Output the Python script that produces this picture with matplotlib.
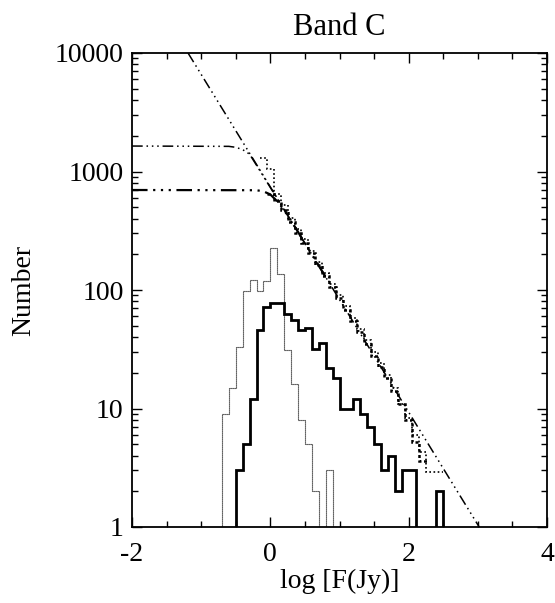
import numpy as np
import matplotlib
matplotlib.use("Agg")
import matplotlib.pyplot as plt
from matplotlib.ticker import MultipleLocator, FixedLocator, FixedFormatter, LogLocator, NullFormatter

plt.rcParams['font.family'] = ['Liberation Serif', 'DejaVu Serif']
plt.rcParams['axes.unicode_minus'] = False

# differential counts, bin width 0.1 in log F
thin_edges = np.round(np.arange(-0.7, 0.91, 0.1), 2)
thin_counts = [9, 15, 33, 98, 122, 99, 118, 225, 137, 31, 16, 8, 5, 2, 0, 3]

thick_edges = np.round(np.arange(-0.5, 2.51, 0.1), 2)
thick_counts = [3, 5, 12, 46, 72, 77, 77, 63, 56, 46, 48, 32, 36, 22, 18,
                10, 10, 12, 9, 7, 5, 3, 4, 2, 3, 3, 0, 0, 0, 2]

# cumulative counts
cum_a_edges = list(np.round(np.arange(-0.15, 2.26, 0.1), 2)) + [2.5]
cum_a_counts = [1290, 1050, 640, 520, 405, 330, 272, 215, 172, 140, 112, 90, 73,
                58, 47, 38, 30, 24, 19, 15, 11, 8.3, 6.0, 4.3, 2.9]

cum_b_edges = list(np.round(np.arange(-0.05, 2.16, 0.1), 2)) + [2.3]
cum_b_counts = [650, 560, 470, 372, 305, 250, 205, 163, 131, 105, 85, 68, 55,
                44, 35, 28, 22.5, 18, 14, 11, 8, 5.2, 3.6]

# power law and model curves
pl_x = [-1.19, 3.02]
pl_n = [10000, 1]
model_hi_x = [-2.0, -0.6, -0.5, -0.4, -0.3, -0.2, 0.5]
model_hi_n = [1640, 1630, 1600, 1530, 1400, 1130, 248]
model_lo_x = [-2.0, -0.2, -0.1, 0.0, 0.1, 0.2, 0.3, 0.8]
model_lo_n = [698, 695, 680, 640, 560, 470, 385, 129]

xtick_vals = [-2, 0, 2, 4]
ytick_vals = [1, 10, 100, 1000, 10000]
ytick_labels = ['1', '10', '100', '1000', '10000']

fig = plt.figure(figsize=(5.55, 6.03), dpi=100)
ax = fig.add_axes([132/555, 76/603, 415/555, 474/603])
ax.set_yscale('log', nonpositive='clip')

dddash = (0, (7, 2.5, 1, 2.5, 1, 2.5, 1, 2.5))
ax.plot(pl_x, pl_n, color='black', lw=1.1, linestyle=dddash)
ax.plot(model_hi_x, model_hi_n, color='black', lw=1.1, linestyle=dddash)
ax.plot(model_lo_x, model_lo_n, color='black', lw=1.6, linestyle=dddash)

ax.stairs(cum_a_counts, cum_a_edges, color='black', lw=1.2, linestyle=(0, (1, 1.5)), baseline=None)
ax.stairs(cum_b_counts, cum_b_edges, color='black', lw=1.8, linestyle=(0, (1.2, 1)), baseline=None)

ax.stairs(thin_counts, thin_edges, color='black', lw=0.8, linestyle=(0, (1, 0.8)), baseline=0.01)
ax.stairs(thick_counts, thick_edges, color='black', lw=2.0, baseline=0.01)

ax.set_xlim(-2, 4)
ax.set_ylim(1, 10000)
ax.xaxis.set_major_locator(FixedLocator(xtick_vals))
ax.xaxis.set_minor_locator(MultipleLocator(0.5))
ax.yaxis.set_major_locator(FixedLocator(ytick_vals))
ax.yaxis.set_major_formatter(FixedFormatter(ytick_labels))
ax.yaxis.set_minor_locator(LogLocator(base=10, subs=np.arange(2, 10)))
ax.yaxis.set_minor_formatter(NullFormatter())

ax.tick_params(which='both', direction='in', top=True, right=True, width=1.0, labelsize=20)
ax.tick_params(which='major', length=7)
ax.tick_params(which='minor', length=4.5)
ax.tick_params(axis='x', which='major', pad=11)
ax.tick_params(axis='y', which='major', pad=6)
for s in ax.spines.values():
    s.set_linewidth(1.3)

ax.set_title('Band C', fontsize=22, pad=13)
ax.set_xlabel('log [F(Jy)]', fontsize=20)
ax.set_ylabel('Number', fontsize=20)
ax.xaxis.set_label_coords(0.5, -0.088)
ax.yaxis.set_label_coords(-0.232, 0.5)

fig.savefig('out.png', dpi=100)
